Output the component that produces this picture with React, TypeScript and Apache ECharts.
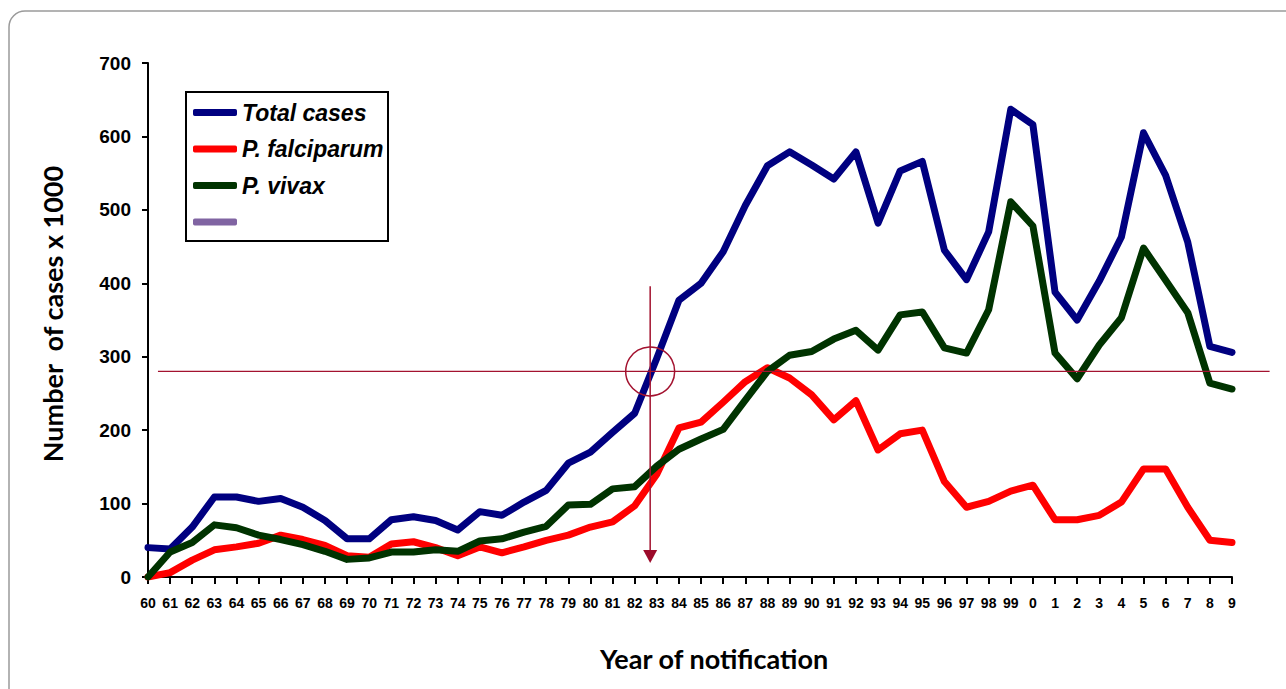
import React, { useEffect, useRef } from "react";
import * as echarts from "echarts";

const YEAR_LABELS = [
  "60","61","62","63","64","65","66","67","68","69",
  "70","71","72","73","74","75","76","77","78","79",
  "80","81","82","83","84","85","86","87","88","89",
  "90","91","92","93","94","95","96","97","98","99",
  "0","1","2","3","4","5","6","7","8","9",
];

const TOTAL_CASES = [
  40, 38, 68, 109, 109, 103, 107, 95, 77, 52,
  52, 78, 82, 77, 64, 89, 84, 102, 118, 155,
  170, 197, 223, 298, 377, 400, 443, 506, 560, 579,
  561, 542, 579, 482, 553, 566, 445, 405, 470, 637,
  616, 388, 350, 403, 463, 605, 547, 456, 314, 306,
];

const P_FALCIPARUM = [
  0, 6, 23, 37, 41, 46, 57, 51, 43, 29,
  27, 45, 48, 40, 29, 41, 33, 41, 50, 57,
  68, 75, 97, 140, 203, 211, 238, 266, 285, 271,
  248, 214, 240, 173, 195, 200, 130, 95, 103, 117,
  125, 78, 78, 84, 102, 147, 147, 95, 50, 47,
];

const P_VIVAX = [
  0, 34, 47, 71, 67, 57, 51, 44, 35, 24,
  26, 34, 34, 37, 35, 49, 52, 61, 69, 98,
  99, 120, 123, 151, 174, 188, 201, 241, 280, 302,
  307, 324, 336, 309, 357, 361, 312, 305, 364, 511,
  478, 305, 270, 316, 353, 448, 404, 360, 264, 256,
];

const Y_TICKS = { min: 0, max: 700, interval: 100 };

// annotation (reference level and crossing year, in data units)
const REF_LEVEL = 280;
const REF_INDEX = 22.7;
const REF_LINE_X_RANGE = [0.45, 50.7];
const ARROW_RANGE = [396, 19];

const toPairs = (arr: number[]) => arr.map((v, i) => [i, v]);

const TICK_FONT = "'Liberation Sans', Arial, sans-serif";
const TITLE_FONT = "Lato, 'Open Sans', sans-serif";
const MARK_COLOR = "#a3122f";

export default function App() {
  const ref = useRef<HTMLDivElement>(null);

  useEffect(() => {
    if (!ref.current) return;
    const chart = echarts.init(ref.current, null, { renderer: "svg" });
    const lineSeries = (name: string, data: number[], color: string) => ({
      name,
      type: "line",
      data: toPairs(data),
      showSymbol: false,
      symbol: "none",
      color,
      lineStyle: { width: 7, color, cap: "round", join: "round" },
      emphasis: { disabled: true },
    });
    chart.setOption({
      animation: false,
      backgroundColor: "#ffffff",
      grid: { left: 148, right: 54, top: 63, bottom: 112, containLabel: false },
      legend: {
        orient: "vertical",
        left: 193,
        top: 101,
        padding: 0,
        itemWidth: 44,
        itemHeight: 7,
        itemGap: 13.5,
        icon: "roundRect",
        textStyle: {
          fontFamily: TICK_FONT,
          fontStyle: "italic",
          fontWeight: "bold",
          fontSize: 23,
          color: "#000",
        },
        data: ["Total cases", "P. falciparum", "P. vivax", " "],
      },
      xAxis: {
        type: "value",
        min: 0,
        max: YEAR_LABELS.length - 1,
        interval: 1,
        splitLine: { show: false },
        axisLine: { show: true, lineStyle: { color: "#000", width: 2 } },
        axisTick: { show: true, length: 7, lineStyle: { color: "#000", width: 2 } },
        axisLabel: {
          formatter: (v: number) => YEAR_LABELS[v] ?? "",
          fontFamily: TICK_FONT,
          fontWeight: "bold",
          fontSize: 14,
          color: "#000",
          margin: 19,
        },
      },
      yAxis: {
        type: "value",
        min: Y_TICKS.min,
        max: Y_TICKS.max,
        interval: Y_TICKS.interval,
        splitLine: { show: false },
        axisLine: { show: true, lineStyle: { color: "#000", width: 2 } },
        axisTick: { show: true, length: 6, lineStyle: { color: "#000", width: 2 } },
        axisLabel: {
          fontFamily: TICK_FONT,
          fontWeight: "bold",
          fontSize: 19,
          color: "#000",
          margin: 17,
        },
      },
      series: [
        lineSeries("Total cases", TOTAL_CASES, "#000080"),
        lineSeries("P. falciparum", P_FALCIPARUM, "#ff0000"),
        lineSeries("P. vivax", P_VIVAX, "#003300"),
        {
          name: " ",
          type: "line",
          data: [],
          symbol: "none",
          color: "#8064a2",
          lineStyle: { width: 7, color: "#8064a2" },
        },
      ],
    });

    const px = (x: number, y: number) =>
      chart.convertToPixel({ gridIndex: 0 }, [x, y]) as number[];
    const h0 = px(REF_LINE_X_RANGE[0], REF_LEVEL);
    const h1 = px(REF_LINE_X_RANGE[1], REF_LEVEL);
    const vTop = px(REF_INDEX, ARROW_RANGE[0]);
    const vTip = px(REF_INDEX, ARROW_RANGE[1]);
    const center = px(REF_INDEX, REF_LEVEL);

    chart.setOption({
      graphic: [
        {
          type: "rect",
          shape: { x: 9, y: 11, width: 1400, height: 800, r: 16 },
          style: { fill: "none", stroke: "#9a9a9a", lineWidth: 1.5 },
          silent: true,
          z: -10,
        },
        {
          type: "rect",
          shape: { x: 186, y: 92, width: 202, height: 149 },
          style: { fill: "none", stroke: "#000", lineWidth: 2 },
          silent: true,
        },
        {
          type: "text",
          x: 52,
          y: 314,
          rotation: Math.PI / 2,
          style: {
            text: "Number  of cases x 1000",
            align: "center",
            verticalAlign: "middle",
            font: `bold 27px ${TITLE_FONT}`,
            fill: "#000",
          },
        },
        {
          type: "text",
          x: 714,
          y: 658,
          style: {
            text: "Year of notification",
            align: "center",
            verticalAlign: "middle",
            font: `bold 27px ${TITLE_FONT}`,
            fill: "#000",
          },
        },
        {
          type: "line",
          shape: { x1: h0[0], y1: h0[1], x2: h1[0], y2: h1[1] },
          style: { stroke: MARK_COLOR, lineWidth: 1.3 },
          z: 50,
        },
        {
          type: "line",
          shape: { x1: vTop[0], y1: vTop[1], x2: vTip[0], y2: vTip[1] - 10 },
          style: { stroke: MARK_COLOR, lineWidth: 1.5 },
          z: 50,
        },
        {
          type: "polygon",
          shape: {
            points: [
              [vTip[0], vTip[1]],
              [vTip[0] - 7, vTip[1] - 13],
              [vTip[0] + 7, vTip[1] - 13],
            ],
          },
          style: { fill: "#9c0a2a" },
          z: 50,
        },
        {
          type: "circle",
          shape: { cx: center[0], cy: center[1], r: 24.5 },
          style: { fill: "none", stroke: MARK_COLOR, lineWidth: 1.5 },
          z: 50,
        },
      ],
    });

    return () => chart.dispose();
  }, []);

  return (
    <div
      ref={ref}
      style={{ position: "absolute", left: 0, top: 0, width: 1286, height: 689 }}
    />
  );
}
